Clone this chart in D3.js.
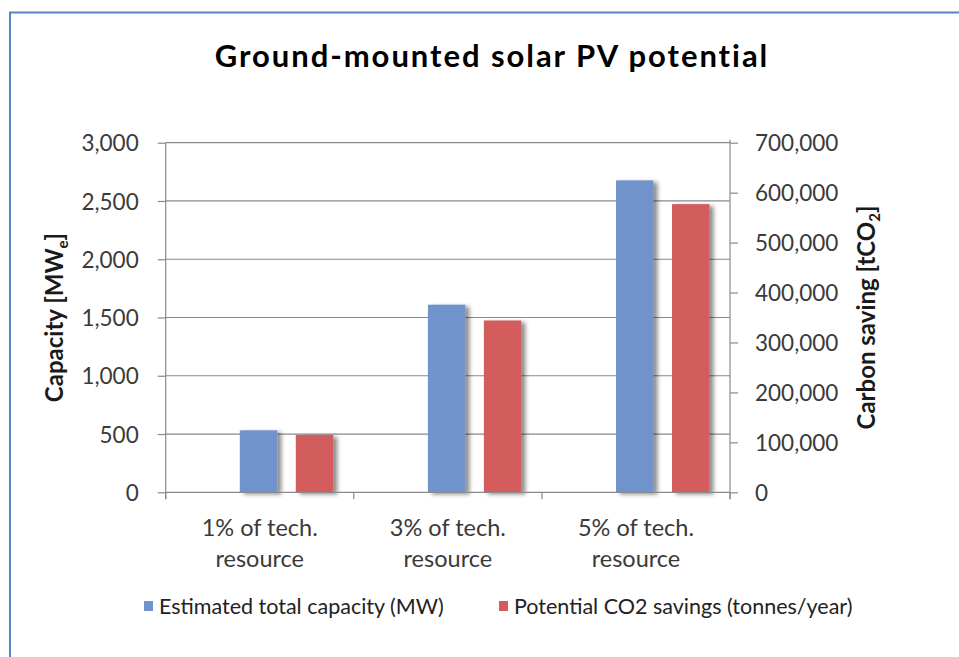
<!DOCTYPE html>
<html><head><meta charset="utf-8">
<script src="https://cdn.jsdelivr.net/npm/d3@7"></script>
<style>
html,body{margin:0;padding:0;background:#fff;}
svg{display:block;}
text{font-family:Lato,"Open Sans",sans-serif;}
</style></head>
<body>
<script>
const categories = [["1% of tech.","resource"],["3% of tech.","resource"],["5% of tech.","resource"]];
const capacityMW = [532, 1610, 2677];
const co2Savings = [115000, 344000, 577000];
const leftTicks = [0,500,1000,1500,2000,2500,3000];
const rightTicks = [0,100000,200000,300000,400000,500000,600000,700000];
const seriesNames = ["Estimated total capacity (MW)","Potential CO2 savings (tonnes/year)"];
const colors = ["#7093CB","#D35B5C"];

const W=959,H=657;
const svg=d3.select("body").append("svg").attr("width",W).attr("height",H);
const defs=svg.append("defs");
const f=defs.append("filter").attr("id","sh").attr("x","-30%").attr("y","-10%").attr("width","160%").attr("height","130%");
f.append("feDropShadow").attr("dx",4).attr("dy",2).attr("stdDeviation",2).attr("flood-color","#000").attr("flood-opacity",0.45);

// frame
svg.append("rect").attr("x",10).attr("y",12.5).attr("width",W+20).attr("height",H+20)
  .attr("fill","#fff").attr("stroke","#5585C3").attr("stroke-width",2);

const L=165.7,R=730,T=142.7,B=492.3;
const x=d3.scaleBand().domain(d3.range(categories.length)).range([L,R]).padding(0);
const xs=d3.scaleBand().domain([0,1]).range([x.bandwidth()*0.394,x.bandwidth()*0.891]).paddingInner(0.33);
const yL=d3.scaleLinear().domain([0,3000]).range([B,T]);
const yR=d3.scaleLinear().domain([0,700000]).range([B,T]);

// gridlines
svg.append("g").selectAll("line").data(leftTicks.slice(1)).join("line")
  .attr("x1",L).attr("x2",R).attr("y1",d=>yL(d)).attr("y2",d=>yL(d))
  .attr("stroke","#8a8a8a").attr("stroke-width",1.2);

// bars
const g=svg.append("g");
categories.forEach((c,i)=>{
  g.append("rect").attr("x",x(i)+xs(0)).attr("width",xs.bandwidth())
   .attr("y",yL(capacityMW[i])).attr("height",B-yL(capacityMW[i]))
   .attr("fill",colors[0]).attr("filter","url(#sh)");
  g.append("rect").attr("x",x(i)+xs(1)).attr("width",xs.bandwidth())
   .attr("y",yR(co2Savings[i])).attr("height",B-yR(co2Savings[i]))
   .attr("fill",colors[1]).attr("filter","url(#sh)");
});

const fmt=d3.format(",");
const axisColor="#8a8a8a";
const tickText="#3a3a3a";
// left axis
const ax=svg.append("g").attr("transform",`translate(${L},0)`)
  .call(d3.axisLeft(yL).tickValues(leftTicks).tickFormat(fmt).tickSize(8).tickPadding(19));
ax.select(".domain").attr("stroke",axisColor).attr("stroke-width",1.2).attr("d",`M0,${T}V${B+7}`);
ax.selectAll(".tick line").attr("stroke",axisColor).attr("stroke-width",1.2);
ax.selectAll(".tick text").attr("font-size",22.5).attr("fill",tickText).attr("font-family","Lato").attr("dy","0.36em");

// right axis
const ar=svg.append("g").attr("transform",`translate(${R},0)`)
  .call(d3.axisRight(yR).tickValues(rightTicks).tickFormat(fmt).tickSize(8).tickPadding(17));
ar.select(".domain").attr("stroke",axisColor).attr("stroke-width",1.2).attr("d",`M0,${T-3}V${B+7}`);
ar.selectAll(".tick line").attr("stroke",axisColor).attr("stroke-width",1.2);
ar.selectAll(".tick text").attr("font-size",22.5).attr("fill",tickText).attr("font-family","Lato").attr("dy","0.36em");

// bottom axis
const bx=svg.append("g");
bx.append("line").attr("x1",L).attr("x2",R).attr("y1",B).attr("y2",B).attr("stroke",axisColor).attr("stroke-width",1.2);
bx.selectAll("line.t").data(d3.range(categories.length+1)).join("line").attr("class","t")
  .attr("x1",d=>L+d*x.step()).attr("x2",d=>L+d*x.step()).attr("y1",B).attr("y2",B+7)
  .attr("stroke",axisColor).attr("stroke-width",1.2);
categories.forEach((c,i)=>{
  const t=svg.append("text").attr("text-anchor","middle").attr("font-size",23.5).attr("fill",tickText);
  c.forEach((line,j)=>t.append("tspan").attr("x",x(i)+x.bandwidth()/2).attr("y",536+j*31).text(line));
});

// title
svg.append("text").attr("x",492).attr("y",67).attr("text-anchor","middle")
  .attr("font-size",31).attr("font-weight","bold").attr("fill","#000").attr("letter-spacing",1.95)
  .text("Ground-mounted solar PV potential");

// axis titles
const lt=svg.append("text").attr("transform",`translate(63,${(T+B)/2}) rotate(-90)`)
  .attr("text-anchor","middle").attr("font-size",24).attr("font-weight","bold").attr("fill","#1a1a1a");
lt.append("tspan").text("Capacity [MW");
lt.append("tspan").attr("font-size",15).attr("dy",5).text("e");
lt.append("tspan").attr("dy",-5).text("]");

const rt=svg.append("text").attr("transform",`translate(875,${(T+B)/2}) rotate(-90)`)
  .attr("text-anchor","middle").attr("font-size",24).attr("font-weight","bold").attr("fill","#1a1a1a");
rt.append("tspan").text("Carbon saving [tCO");
rt.append("tspan").attr("font-size",15).attr("dy",5).text("2");
rt.append("tspan").attr("dy",-5).text("]");

// legend
const legX=[144,499];
seriesNames.forEach((n,i)=>{
  svg.append("rect").attr("x",legX[i]).attr("y",601).attr("width",9).attr("height",10).attr("fill",colors[i]);
  svg.append("text").attr("x",legX[i]+15).attr("y",614).attr("font-size",21.5).attr("fill","#222").text(n);
});
</script>
</body></html>
